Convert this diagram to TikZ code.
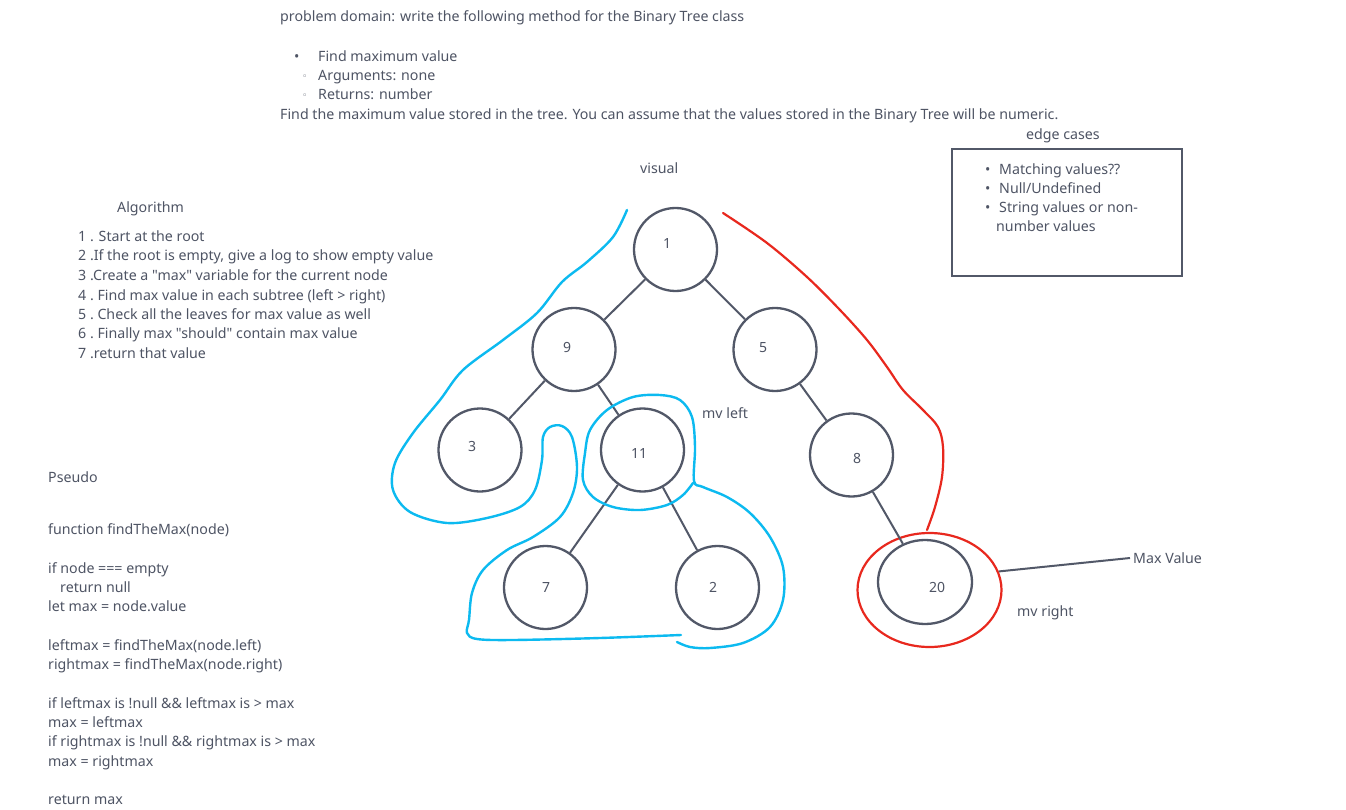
\documentclass[tikz,border=0pt]{standalone}
\usepackage{fontspec}
\newfontfamily\mainf{Noto Sans}
\newfontfamily\djv{DejaVu Sans}
\usetikzlibrary{shapes.geometric}
\definecolor{txtc}{RGB}{78,84,100}
\definecolor{lnc}{RGB}{82,88,104}
\definecolor{skyb}{RGB}{12,186,240}
\definecolor{redl}{RGB}{232,40,30}
\begin{document}
\begin{tikzpicture}[x=1pt,y=-1pt,
  lbl/.style={anchor=base west, inner sep=0pt, text=txtc, font=\mainf\fontsize{14.2}{16}\selectfont},
  num/.style={inner sep=0pt, text=txtc, font=\mainf\fontsize{14}{16}\selectfont},
  circ/.style={circle, draw=lnc, line width=2.3pt, minimum size=83pt, inner sep=0pt},
  edgeln/.style={draw=lnc, line width=2pt},
  bluec/.style={draw=skyb, line width=2.4pt, line cap=round, line join=round},
  redc/.style={draw=redl, line width=2.2pt, line cap=round, line join=round}]
\fill[white] (0,0) rectangle (1346,810);
\useasboundingbox (0,0) rectangle (1346,810);

% top text
\node[lbl] (t1) at (280,22) {problem domain: write the following method for the Binary Tree class};
\node[lbl] (b1) at (294,62) {•};
\node[lbl] (t2) at (318,62) {Find maximum value};
\node[lbl, font=\djv\fontsize{9}{10}\selectfont] (b2) at (302,80) {◦};
\node[lbl] (t3) at (318,81) {Arguments: none};
\node[lbl, font=\djv\fontsize{9}{10}\selectfont] (b3) at (302,99) {◦};
\node[lbl] (t4) at (318,100) {Returns: number};
\node[lbl] (t5) at (280,120) {Find the maximum value stored in the tree. You can assume that the values stored in the Binary Tree will be numeric.};

% edge cases
\node[lbl] (ect) at (1026,140) {edge cases};
\draw[lnc, line width=2.2pt] (952,149) rectangle (1182,276);
\node[lbl] (e1b) at (985,175) {•};
\node[lbl] (e1) at (999,175) {Matching values??};
\node[lbl] (e2b) at (985,194) {•};
\node[lbl] (e2) at (999,194) {Null/Undefined};
\node[lbl] (e3b) at (985,213) {•};
\node[lbl] (e3) at (999,213) {String values or non-};
\node[lbl] (e4) at (996,232) {number values};

% visual
\node[lbl] (vis) at (640,174) {visual};

% algorithm
\node[lbl] (alg) at (117,213) {Algorithm};
\node[lbl] (a1) at (78,242) {1 . Start at the root};
\node[lbl] (a2) at (78,261) {2 .If the root is empty, give a log to show empty value};
\node[lbl] (a3) at (78,280) {3 .Create a "max" variable for the current node};
\node[lbl] (a4) at (78,300) {4 .\ Find max value in each subtree (left > right)};
\node[lbl] (a5) at (78,319) {5 .\ Check all the leaves for max value as well};
\node[lbl] (a6) at (78,338) {6 .\ Finally max "should" contain max value};
\node[lbl] (a7) at (78,358) {7 .return that value};

% pseudo
\node[lbl] (ps) at (48,482) {Pseudo};
\node[lbl] (p1) at (48,534) {function findTheMax(node)};
\node[lbl] (p2) at (48,573) {if node === empty};
\node[lbl] (p3) at (60,592) {return null};
\node[lbl] (p4) at (48,611) {let max = node.value};
\node[lbl] (p5) at (48,650) {leftmax = findTheMax(node.left)};
\node[lbl] (p6) at (48,669) {rightmax = findTheMax(node.right)};
\node[lbl] (p7) at (48,708) {if leftmax is !null \&\& leftmax is > max};
\node[lbl] (p8) at (48,727) {max = leftmax};
\node[lbl] (p9) at (48,746) {if rightmax is !null \&\& rightmax is > max};
\node[lbl] (p10) at (48,766) {max = rightmax};
\node[lbl] (p11) at (48,804) {return max};

% tree nodes
\node[circ] (n1) at (675.5,249.5) {};
\node[circ] (n9) at (574,349.5) {};
\node[circ] (n5) at (775,349.5) {};
\node[circ] (n3) at (480,450) {};
\node[circ] (n11) at (642.5,450) {};
\node[circ] (n7) at (545.5,587.5) {};
\node[circ] (n2) at (717.5,587.5) {};
\node[circ] (n8) at (851.5,455) {};
\node[ellipse, draw=lnc, line width=2.3pt, minimum width=94pt, minimum height=84pt, inner sep=0pt] (n20) at (925,582) {};
\node[ellipse, draw=redl, line width=2.2pt, minimum width=144pt, minimum height=114pt, inner sep=0pt] (red) at (929.5,590) {};

\node[num] at (667,244) {1};
\node[num] at (567,348) {9};
\node[num] at (763,348) {5};
\node[num] at (472,446) {3};
\node[num] at (639,453) {11};
\node[num] at (546,587) {7};
\node[num] at (713,587) {2};
\node[num] at (857,458) {8};
\node[num] at (937,587) {20};

% tree edges
\draw[edgeln] (n1) -- (n9);
\draw[edgeln] (n1) -- (n5);
\draw[edgeln] (n9) -- (n3);
\draw[edgeln] (n9) -- (n11);
\draw[edgeln] (n5) -- (n8);
\draw[edgeln] (n11) -- (n7);
\draw[edgeln] (n11) -- (n2);
\draw[edgeln] (n8) -- (n20);

% labels
\node[lbl] (mvl) at (702,418) {mv left};
\node[lbl] (mvr) at (1017,616) {mv right};
\node[lbl, anchor=west, inner sep=3pt] (maxv) at (1130,558) {Max Value};
\draw[edgeln] (red.15) -- (maxv.west);

% blue curves
\draw[bluec] plot[smooth, tension=0.55] coordinates {
 (627,210) (613,237) (587,262) (562,282) (537,313) (503,340) (463,370)
 (440,400) (413,433) (395,463) (393,490) (410,512) (447,523) (487,518)
 (520,507) (535,490) (542,460) (543,437) (550,427) (562,426) (572,437)
 (577,467) (573,493) (560,517) (533,537) (507,550) (483,570) (472,593)
 (469,620) (467,633) (477,639) (513,640) (600,638) (681,635)};
\draw[bluec] plot[smooth, tension=0.55] coordinates {
 (677,642) (690,647) (710,648) (743,643) (770,627) (783,600) (783,567)
 (770,537) (750,513) (727,497) (703,487) (694,481) (695,447) (692,417)
 (680,400) (660,395) (633,397) (607,410) (590,430) (585,453) (583,480)
 (593,497) (613,507) (640,510) (667,505) (683,495) (693,483)};

% red curve
\draw[redc] plot[smooth, tension=0.55] coordinates {
 (723,213) (767,243) (807,277) (840,310) (867,340) (887,367) (903,390)
 (923,410) (938,427) (943,447) (942,477) (935,507) (927,530)};
\end{tikzpicture}
\end{document}
